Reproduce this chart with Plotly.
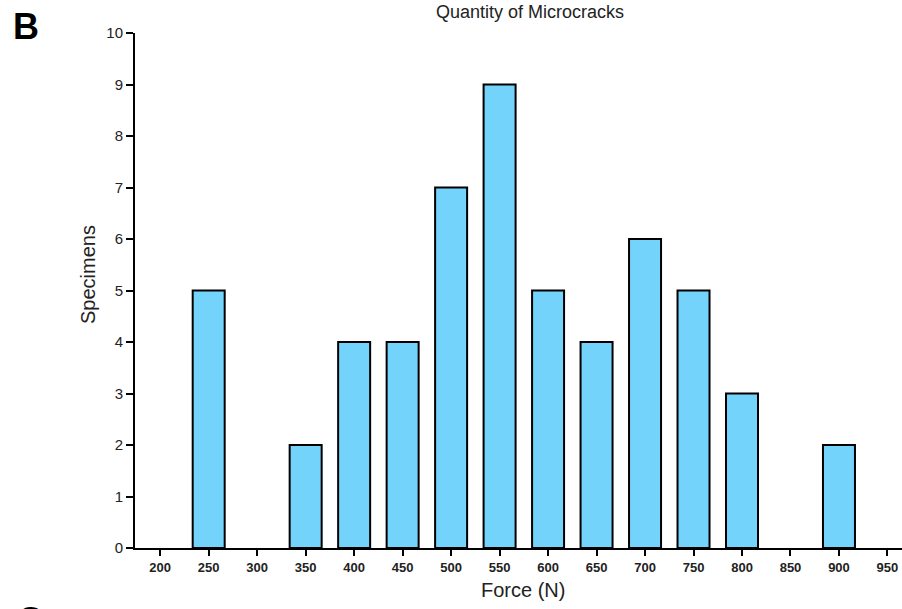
import plotly.graph_objects as go

categories = ["200", "250", "300", "350", "400", "450", "500", "550",
              "600", "650", "700", "750", "800", "850", "900", "950"]
specimens = [0, 5, 0, 2, 4, 4, 7, 9, 5, 4, 6, 5, 3, 0, 2, 0]
y_ticks = [0, 1, 2, 3, 4, 5, 6, 7, 8, 9, 10]

W, H = 902, 609
L, R, T, B = 135, 0, 33, 61

# no outline on empty (zero-height) bars
outline_widths = [2 if v > 0 else 0 for v in specimens]

fig = go.Figure()
fig.add_trace(go.Bar(
    x=categories, y=specimens,
    marker=dict(color="#74D3FB", line=dict(color="black", width=outline_widths)),
))

fig.update_layout(
    width=W, height=H,
    margin=dict(l=L, r=R, t=T, b=B),
    paper_bgcolor="white", plot_bgcolor="white",
    bargap=0.34, showlegend=False,
    font=dict(family="Arial, Liberation Sans, sans-serif", color="#222"),
    xaxis=dict(
        type="category", range=[-0.52, 15.3],
        showline=True, linecolor="black", linewidth=2,
        ticks="outside", ticklen=6, tickwidth=2, tickcolor="black",
        tickfont=dict(size=13, color="#222", family="Arial, Liberation Sans, sans-serif", weight="bold"),
        showgrid=False, zeroline=False,
    ),
    yaxis=dict(
        range=[0, 10], tickvals=y_ticks,
        showline=True, linecolor="black", linewidth=2,
        ticks="outside", ticklen=7, tickwidth=2, tickcolor="black",
        tickfont=dict(size=15, color="#222"),
        showgrid=False, zeroline=False,
    ),
    annotations=[
        dict(text="Quantity of Microcracks", x=530, y=H - 12, showarrow=False,
             font=dict(size=18, color="#222")),
        dict(text="<b>B</b>", x=26, y=H - 26, showarrow=False, font=dict(size=36, color="black")),
        dict(text="<b>C</b>", x=30, y=H - 620, showarrow=False, font=dict(size=36, color="black")),
        dict(text="Specimens", x=88, y=H - 275, showarrow=False, textangle=-90,
             font=dict(size=20, color="#222")),
        dict(text="Force (N)", x=523, y=H - 590, showarrow=False,
             font=dict(size=20, color="#222")),
    ],
)

# convert pixel-based annotation positions to paper coordinates
pw, ph = W - L - R, H - T - B
anns = []
for a in fig.layout.annotations:
    a = a.to_plotly_json()
    a["xref"] = "paper"; a["yref"] = "paper"
    a["x"] = (a["x"] - L) / pw
    a["y"] = (a["y"] - B) / ph
    a["xanchor"] = "center"; a["yanchor"] = "middle"
    anns.append(a)
fig.layout.annotations = anns

fig.write_html("out.html")
